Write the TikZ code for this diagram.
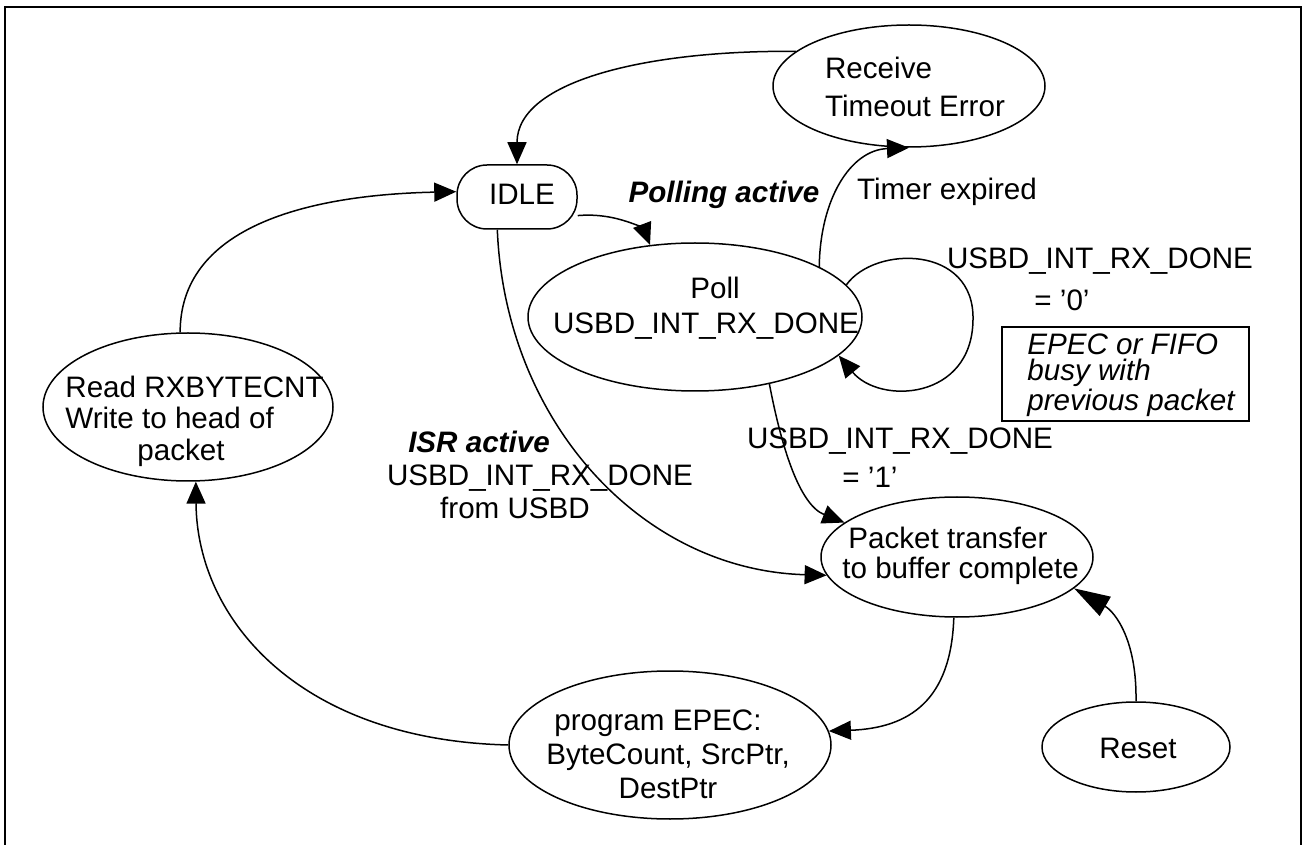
\documentclass[tikz,border=0pt]{standalone}
\usepackage{fontspec}
\setmainfont{Liberation Sans}
\usetikzlibrary{arrows.meta,shapes.geometric}
\begin{document}
\begin{tikzpicture}[x=0.5pt,y=-0.5pt,
  stnode/.style={draw, ellipse, line width=0.75pt, inner sep=0pt},
  txt/.style={inner sep=0pt, font=\fontsize{14.8pt}{17pt}\selectfont},
  bitxt/.style={inner sep=0pt, font=\fontsize{14.8pt}{17pt}\selectfont\bfseries\itshape},
  arr/.style={draw, line width=0.75pt, -{Triangle[length=11pt,width=9.5pt]}},
  bigarr/.style={draw, line width=0.75pt, -{Triangle[length=18pt,width=11pt]}},
]
\useasboundingbox (0,0) rectangle (1303,845);
% frame
\draw[line width=1pt] (5,845) -- (5,7) -- (1301,7) -- (1301,845);

% states
\node[stnode, minimum width=136pt, minimum height=61pt] (tmo) at (909,86) {};
\node[txt, align=left, font=\fontsize{14.8pt}{19pt}\selectfont] (tmo-t) at (915,87) {Receive\\Timeout Error};

\node[draw, rounded corners=15pt, line width=0.75pt, minimum width=60pt, minimum height=32pt, inner sep=0pt] (idle) at (517,197) {};
\node[txt] (idle-t) at (522,194) {IDLE};

\node[stnode, minimum width=167pt, minimum height=74pt] (poll) at (695,317) {};
\node[txt, align=center, font=\fontsize{14.8pt}{17.5pt}\selectfont] (poll-t) at (706,308) {\hspace*{9pt}Poll\\USBD\_INT\_RX\_DONE};

\node[stnode, minimum width=145pt, minimum height=74pt] (read) at (188,407) {};
\node[txt, align=left, anchor=west, font=\fontsize{14.8pt}{15.75pt}\selectfont] (read-t) at (65,421) {Read RXBYTECNT\\Write to head of\\\hspace*{36pt}packet};

\node[stnode, minimum width=136pt, minimum height=60pt] (packet) at (957,557) {};
\node[txt, align=left, anchor=west, font=\fontsize{14.8pt}{15pt}\selectfont] (packet-t) at (842,556) {\hspace*{3pt}Packet transfer\\to buffer complete};

\node[stnode, minimum width=161pt, minimum height=74pt] (program) at (670,745) {};
\node[txt, align=center, font=\fontsize{14.8pt}{17pt}\selectfont] (program-t) at (668,754) {program EPEC:\hspace*{10pt}\\ByteCount, SrcPtr,\\DestPtr};

\node[stnode, minimum width=94pt, minimum height=45pt] (reset) at (1136,747) {};
\node[txt] (reset-t) at (1138,748) {Reset};

% note box
\node[draw, line width=1pt, minimum width=123.5pt, minimum height=47pt, inner sep=0pt] (note) at (1125.5,374) {};
\node[txt, align=left, anchor=west, font=\fontsize{14.8pt}{13.2pt}\selectfont\itshape] (note-t) at (1027,375) {EPEC or FIFO\\busy with\\previous packet};

% labels
\node[bitxt] (lpoll) at (724,195) {Polling active};
\node[txt] (ltimer) at (947,192) {Timer expired};
\node[txt] (l0a) at (1100,261) {USBD\_INT\_RX\_DONE};
\node[txt] (l0b) at (1062,300) {= ’0’};
\node[txt] (l1a) at (900,441) {USBD\_INT\_RX\_DONE};
\node[txt] (l1b) at (870,477) {= ’1’};
\node[bitxt] (lisr) at (479,442) {ISR active};
\node[txt] (lisr2) at (540,478) {USBD\_INT\_RX\_DONE};
\node[txt] (lisr3) at (515,508) {from USBD};

% connectors
\coordinate (loopR) at (973,320);
\draw[arr] (tmo.163) .. controls (650,50) and (517,80) .. (idle.north);
\draw[arr] (poll.22) .. controls (820,200) and (850,150) .. (tmo.south);
\draw[arr] (idle.-17) .. controls (620,212) and (645,232) .. (poll.122);
\draw[arr] (idle.-121) .. controls (505,420) and (640,570) .. (packet.188);
\draw[arr] (poll.-42) .. controls (782,450) and (800,505) .. (packet.163);
\draw[arr] (poll.12) .. controls (875,245) and (975,245) .. (loopR) .. controls (972,400) and (880,405) .. (poll.-15);
\draw[arr] (packet.-93) .. controls (951,700) and (910,728) .. (program.5);
\draw[bigarr] (reset.north) .. controls (1137,640) and (1115,612) .. (packet.-15);
\draw[arr] (program.west) .. controls (300,740) and (197,620) .. (read.-84);
\draw[arr] (read.96) .. controls (180,230) and (300,195) .. (idle.175);
\end{tikzpicture}
\end{document}
